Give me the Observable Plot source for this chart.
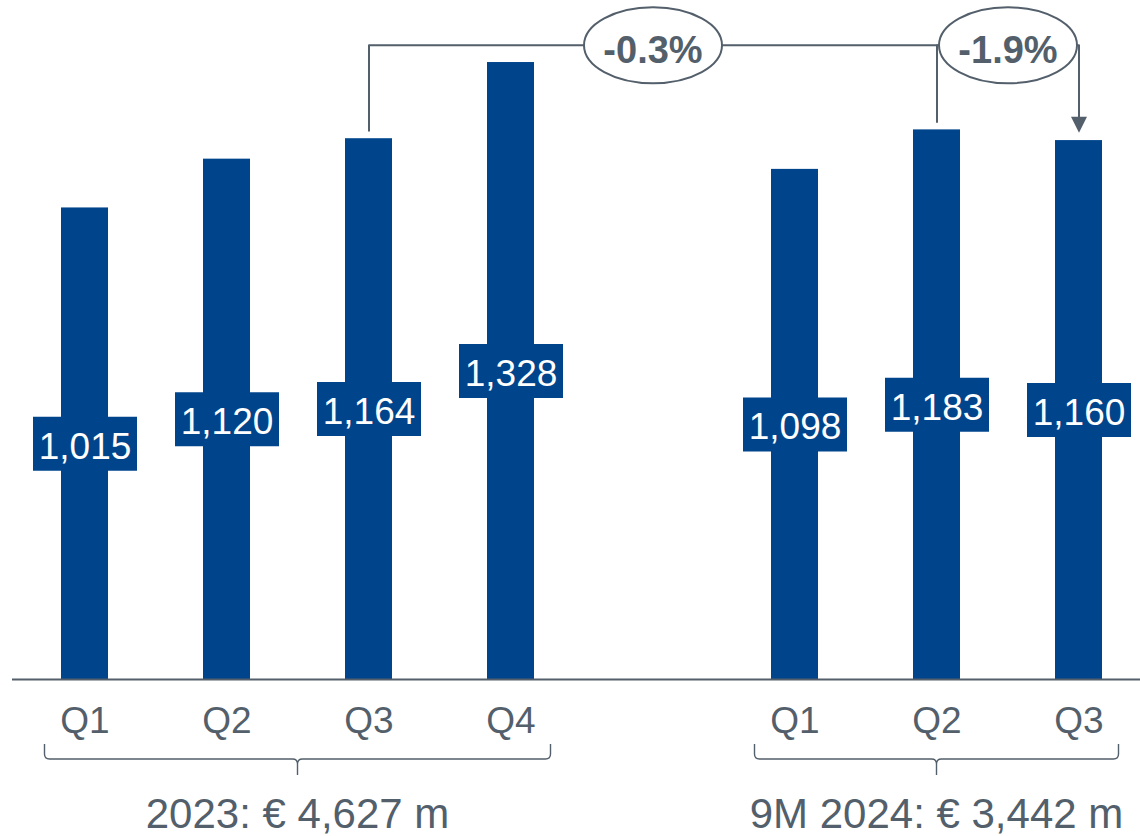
<!DOCTYPE html>
<html>
<head>
<meta charset="utf-8">
<script src="https://cdn.jsdelivr.net/npm/d3@7"></script>
<script src="https://cdn.jsdelivr.net/npm/@observablehq/plot@0.6"></script>
<style>
  html, body { margin: 0; padding: 0; background: #fff; }
  #chart svg { display: block; overflow: visible; }
</style>
</head>
<body>
<div id="chart"></div>
<script>
// ---- data ----
const slots = ["2023 Q1", "2023 Q2", "2023 Q3", "2023 Q4", "gap", "2024 Q1", "2024 Q2", "2024 Q3"];
const quarters = ["Q1", "Q2", "Q3", "Q4", "Q1", "Q2", "Q3"];
const keys = ["2023 Q1", "2023 Q2", "2023 Q3", "2023 Q4", "2024 Q1", "2024 Q2", "2024 Q3"];
const values = [1015, 1120, 1164, 1328, 1098, 1183, 1160];
const groupLabels = ["2023: € 4,627 m", "9M 2024: € 3,442 m"];
const groupFirst = ["2023 Q1", "2024 Q1"];
const groupLast = ["2023 Q4", "2024 Q3"];
const changes = ["-0.3%", "-1.9%"];
const changeFrom = ["2023 Q3", "2024 Q2"];
const changeTo = ["2024 Q3", "2024 Q3"];

const bars = keys.map((k, i) => ({key: k, q: quarters[i], value: values[i]}));
const valueOf = k => values[keys.indexOf(k)];

// ---- style ----
const BLUE = "#00458c";
const GRAY = "#535f6b";
const FONT = "'Liberation Sans', Arial, Helvetica, sans-serif";
const LEVEL = 1365;   // annotation connector level (value units)
const GAP = 17;       // gap between bar top and connector (value units)

const rectSymbol = {draw(ctx) { ctx.rect(-52, -27, 104, 54); }};
const ellipseSymbol = {draw(ctx) {
  const rx = 69, ry = 38, k = 0.5523;
  ctx.moveTo(rx, 0);
  ctx.bezierCurveTo(rx, ry * k, rx * k, ry, 0, ry);
  ctx.bezierCurveTo(-rx * k, ry, -rx, ry * k, -rx, 0);
  ctx.bezierCurveTo(-rx, -ry * k, -rx * k, -ry, 0, -ry);
  ctx.bezierCurveTo(rx * k, -ry, rx, -ry * k, rx, 0);
  ctx.closePath();
}};
const arrowSymbol = {draw(ctx) {
  ctx.moveTo(-8, -16); ctx.lineTo(8, -16); ctx.lineTo(0, 0); ctx.closePath();
}};

const connectorMain = [
  {x: changeFrom[0], y: valueOf(changeFrom[0]) + GAP},
  {x: changeFrom[0], y: LEVEL},
  {x: changeTo[0], y: LEVEL},
  {x: changeTo[0], y: valueOf(changeTo[0]) + GAP + 17}
];
const connectorQ2 = [
  {x: changeFrom[1], y: valueOf(changeFrom[1]) + GAP},
  {x: changeFrom[1], y: LEVEL}
];
const groups = groupLabels.map((t, i) => ({text: t, first: groupFirst[i], last: groupLast[i]}));

// curly braces + group labels (render-function mark using the x scale)
function braces(index, scales, values, dimensions) {
  const x = scales.x, bw = x.bandwidth ? x.bandwidth() : 0;
  const base = dimensions.height - dimensions.marginBottom;
  const yTop = base + 65, yMid = base + 80, yTip = base + 96, r = 5;
  const g = d3.create("svg:g");
  for (const gr of groups) {
    const x0 = x(gr.first) + bw / 2 - 40;
    const x1 = x(gr.last) + bw / 2 + 40;
    const cx = (x(gr.first) + x(gr.last)) / 2 + bw / 2;
    const d = `M${x0},${yTop} L${x0},${yMid - r} Q${x0},${yMid} ${x0 + r},${yMid}` +
      ` L${cx - r},${yMid} Q${cx},${yMid} ${cx},${yMid + r} L${cx},${yTip}` +
      ` M${cx},${yMid + r} Q${cx},${yMid} ${cx + r},${yMid} L${x1 - r},${yMid}` +
      ` Q${x1},${yMid} ${x1},${yMid - r} L${x1},${yTop}`;
    g.append("path").attr("d", d).attr("fill", "none").attr("stroke", GRAY).attr("stroke-width", 1.4);
    g.append("text").attr("x", cx).attr("y", base + 149).attr("text-anchor", "middle")
      .attr("font-size", 42).attr("fill", GRAY).attr("font-family", FONT).text(gr.text);
  }
  return g.node();
}

const chart = Plot.plot({
  width: 1140,
  height: 836,
  marginTop: 0,
  marginBottom: 157,
  marginLeft: 0,
  marginRight: 0,
  style: {fontFamily: FONT, background: "white", overflow: "visible"},
  x: {domain: slots, range: [11.75, 1151.75], paddingInner: 0.67, paddingOuter: 0.335, axis: null},
  y: {domain: [0, 1461.5], axis: null},
  marks: [
    Plot.barY(bars, {x: "key", y: "value", fill: BLUE}),
    Plot.ruleY([0], {stroke: GRAY, strokeWidth: 2, insetLeft: 12}),
    Plot.dot(bars, {x: "key", y: d => d.value / 2, symbol: rectSymbol, fill: BLUE, stroke: null}),
    Plot.text(bars, {x: "key", y: d => d.value / 2, text: d => d3.format(",")(d.value),
      fill: "white", fontSize: 37, dy: 3}),
    Plot.text(bars, {x: "key", text: "q", frameAnchor: "bottom", lineAnchor: "bottom",
      dy: 53, fontSize: 37, fill: GRAY}),
    braces,
    Plot.line(connectorMain, {x: "x", y: "y", stroke: GRAY, strokeWidth: 2}),
    Plot.line(connectorQ2, {x: "x", y: "y", stroke: GRAY, strokeWidth: 2}),
    Plot.dot([{x: changeTo[0], y: valueOf(changeTo[0]) + GAP}], {x: "x", y: "y", symbol: arrowSymbol, fill: GRAY, stroke: null}),
    // bubble 1: centred on the gap slot
    Plot.dot([changes[0]], {x: () => "gap", y: () => LEVEL, symbol: ellipseSymbol, fill: "white", stroke: GRAY, strokeWidth: 2}),
    Plot.text([changes[0]], {x: () => "gap", y: () => LEVEL, text: d => d, fontSize: 38, fontWeight: "bold", fill: GRAY, dy: 5}),
    // bubble 2: half a step right of 2024 Q2
    Plot.dot([changes[1]], {x: () => changeFrom[1], y: () => LEVEL, dx: 71, symbol: ellipseSymbol, fill: "white", stroke: GRAY, strokeWidth: 2}),
    Plot.text([changes[1]], {x: () => changeFrom[1], y: () => LEVEL, dx: 71, text: d => d, fontSize: 38, fontWeight: "bold", fill: GRAY, dy: 5})
  ]
});
document.getElementById("chart").append(chart);
</script>
</body>
</html>
